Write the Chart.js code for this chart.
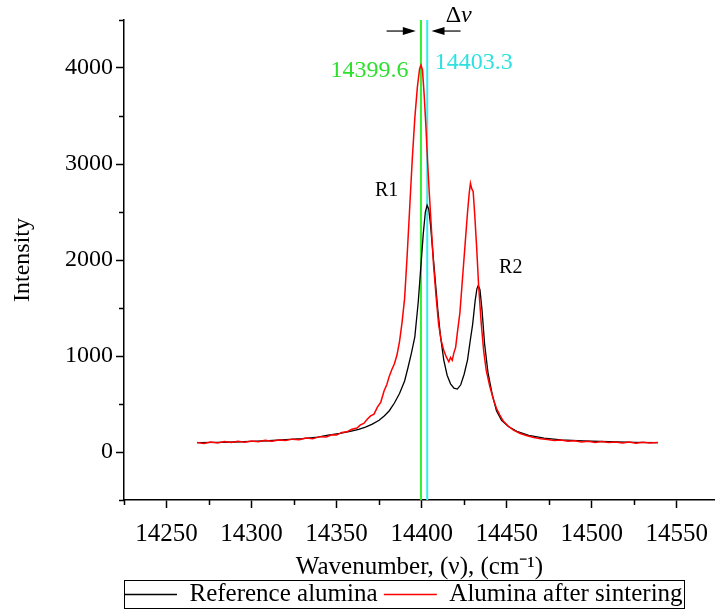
<!DOCTYPE html>
<html>
<head>
<meta charset="utf-8">
<script src="https://cdn.jsdelivr.net/npm/chart.js@4.4.0/dist/chart.umd.min.js"></script>
<style>
  html, body { margin: 0; padding: 0; background: #fff; overflow: hidden; }
</style>
</head>
<body>
<canvas id="ruby" width="715" height="612"></canvas>
<script>
// Reference alumina (black)
const refX = [14268, 14280, 14290, 14300, 14310, 14320, 14330, 14339, 14345, 14352,
  14358, 14363, 14367, 14371, 14375, 14378, 14381, 14384, 14387, 14390,
  14392, 14394, 14396, 14398, 14399.5, 14401, 14402.2, 14403.2, 14404.2, 14405.2,
  14406.5, 14408, 14409.5, 14411, 14413, 14415, 14417, 14419, 14421, 14423,
  14425, 14427, 14428.5, 14430, 14431.5, 14432.5, 14433.3, 14434.3, 14435.5, 14437,
  14439, 14441.5, 14444, 14447, 14451, 14456, 14463, 14472, 14482, 14495,
  14510, 14525, 14539];
const refY = [97, 100, 104, 110, 117, 128, 140, 156, 175, 195,
  215, 235, 260, 290, 330, 375, 430, 510, 610, 740,
  880, 1030, 1200, 1560, 1920, 2280, 2500, 2570, 2530, 2370,
  2100, 1790, 1480, 1220, 960, 800, 710, 665, 655, 700,
  810, 960, 1150, 1330, 1580, 1700, 1735, 1690, 1480, 1130,
  830, 600, 430, 330, 265, 215, 172, 145, 127, 115,
  107, 101, 97];

// Alumina after sintering (red)
const sinterX = [14268, 14272, 14276, 14280, 14284, 14288, 14292, 14296, 14300, 14304,
  14308, 14312, 14316, 14320, 14324, 14328, 14332, 14336, 14340, 14344,
  14347, 14350, 14353, 14356, 14359, 14362, 14364, 14366, 14368, 14370,
  14372, 14374, 14376, 14378, 14379.5, 14381, 14382.5, 14384, 14385.5, 14387,
  14388.5, 14390, 14391.5, 14393, 14394.5, 14396, 14397.5, 14398.8, 14399.6, 14400.5,
  14401.5, 14402.5, 14403.5, 14404.5, 14405.5, 14407, 14408.5, 14410, 14411.5, 14413,
  14414.5, 14416, 14417, 14418, 14419, 14420, 14421, 14422.5, 14424, 14425.5,
  14427, 14428, 14428.7, 14429.5, 14430.3, 14431.2, 14432.3, 14433.5, 14435, 14436.5,
  14438, 14440, 14442, 14444, 14446, 14448, 14451, 14454, 14458, 14462,
  14466, 14470, 14474, 14478, 14482, 14486, 14490, 14494, 14498, 14502,
  14506, 14510, 14514, 14518, 14522, 14526, 14530, 14534, 14539];
const sinterY = [100, 89, 104, 95, 108, 98, 111, 102, 115, 107,
  121, 111, 126, 119, 134, 127, 146, 139, 160, 157,
  180, 176, 204, 210, 237, 250, 283, 298, 342, 376,
  395, 468, 520, 640, 700, 790, 860, 920, 1010, 1150,
  1350, 1600, 2050, 2550, 3050, 3480, 3800, 3990, 4030, 3980,
  3720, 3400, 3020, 2700, 2400, 1950, 1620, 1330, 1160, 1060,
  990, 940, 985, 955, 1035, 1090, 1240, 1450, 1800, 2150,
  2500, 2700, 2800, 2740, 2715, 2480, 2150, 1740, 1350, 1050,
  850, 690, 560, 455, 385, 322, 268, 228, 193, 170,
  152, 137, 131, 120, 125, 111, 117, 105, 112, 100,
  109, 98, 105, 94, 103, 92, 101, 94, 98];

// R1 peak positions marked by the vertical lines
const peakSinter = 14399.6;
const peakRef = 14403.3;

const xTicks = [14225, 14250, 14275, 14300, 14325, 14350, 14375, 14400, 14425, 14450,
  14475, 14500, 14525, 14550, 14575];
const yTicks = [-500, 0, 500, 1000, 1500, 2000, 2500, 3000, 3500, 4000, 4500];

const serif = "'Liberation Serif', 'Times New Roman', serif";

const toPoints = (xs, ys) => xs.map((x, i) => ({ x: x, y: ys[i] }));

// text notes, in data units
const notes = [
  { text: '14399.6', x: 14369.4, y: 3975, color: '#2ee02e', size: 24 },
  { text: '14403.3', x: 14430.6, y: 4060, color: '#2ee0e0', size: 24 },
  { text: 'R1', x: 14379.4, y: 2719, color: '#000', size: 20 },
  { text: 'R2', x: 14452.4, y: 1917, color: '#000', size: 20 }
];

const notesPlugin = {
  id: 'notes',
  afterDraw(chart) {
    const { ctx, scales: { x, y } } = chart;
    ctx.save();

    // minor ticks (shorter than the labelled ones)
    ctx.strokeStyle = '#000';
    ctx.lineWidth = 1.5;
    ctx.beginPath();
    xTicks.forEach(v => {
      if (v % 50 === 0 || v < x.min || v > x.max) return;
      const px = Math.round(x.getPixelForValue(v)) + 0.5;
      ctx.moveTo(px, y.bottom);
      ctx.lineTo(px, y.bottom + 5);
    });
    yTicks.forEach(v => {
      if (v % 1000 === 0) return;
      const py = Math.round(y.getPixelForValue(v)) + 0.5;
      ctx.moveTo(x.left, py);
      ctx.lineTo(x.left - 5, py);
    });
    ctx.stroke();

    ctx.textAlign = 'center';
    ctx.textBaseline = 'middle';
    notes.forEach(n => {
      ctx.fillStyle = n.color;
      ctx.font = n.size + 'px ' + serif;
      ctx.fillText(n.text, x.getPixelForValue(n.x), y.getPixelForValue(n.y));
    });

    // delta nu
    const dx = x.getPixelForValue(14421.8);
    const dy = y.getPixelForValue(4540);
    ctx.fillStyle = '#000';
    ctx.font = '24px ' + serif;
    const wD = ctx.measureText('\u0394').width;
    ctx.font = 'italic 24px ' + serif;
    const wN = ctx.measureText('\u03bd').width;
    ctx.textAlign = 'left';
    ctx.font = '24px ' + serif;
    ctx.fillText('\u0394', dx - (wD + wN) / 2, dy);
    ctx.font = 'italic 24px ' + serif;
    ctx.fillText('\u03bd', dx - (wD + wN) / 2 + wD, dy);

    // arrows pointing at the two lines
    const arrow = (from, to, val) => {
      const x0 = x.getPixelForValue(from);
      const x1 = x.getPixelForValue(to);
      const py = y.getPixelForValue(val);
      const dir = Math.sign(x1 - x0);
      ctx.strokeStyle = '#000';
      ctx.lineWidth = 1.2;
      ctx.beginPath();
      ctx.moveTo(x0, py);
      ctx.lineTo(x1 - dir * 8, py);
      ctx.stroke();
      ctx.beginPath();
      ctx.moveTo(x1, py);
      ctx.lineTo(x1 - dir * 13, py - 4);
      ctx.lineTo(x1 - dir * 13, py + 4);
      ctx.closePath();
      ctx.fill();
    };
    arrow(14379.4, 14396.6, 4385);
    arrow(14422.9, 14405.8, 4385);

    // frame round the legend
    const lg = chart.legend;
    const hb = lg.legendHitBoxes;
    const last = hb[hb.length - 1];
    ctx.strokeStyle = '#000';
    ctx.lineWidth = 1;
    ctx.strokeRect(Math.round(lg.left) + 0.5, Math.round(lg.top) - 1.5,
      Math.round(last.left + last.width + 1 - lg.left), 28);

    ctx.restore();
  }
};

new Chart(document.getElementById('ruby'), {
  type: 'line',
  data: {
    datasets: [
      {
        label: 'Alumina after sintering',
        data: toPoints(sinterX, sinterY),
        borderColor: '#ff0000',
        borderWidth: 1.5,
        pointRadius: 0,
        order: 0
      },
      {
        label: 'Reference alumina',
        data: toPoints(refX, refY),
        borderColor: '#000000',
        borderWidth: 1.3,
        pointRadius: 0,
        order: 1
      },
      {
        label: 'peak sinter',
        data: [{ x: peakSinter, y: -500 }, { x: peakSinter, y: 4500 }],
        borderColor: '#33ee33',
        borderWidth: 2,
        pointRadius: 0,
        order: 2
      },
      {
        label: 'peak ref',
        data: [{ x: peakRef, y: -500 }, { x: peakRef, y: 4500 }],
        borderColor: '#33eeee',
        borderWidth: 2,
        pointRadius: 0,
        order: 2
      }
    ]
  },
  options: {
    responsive: false,
    animation: false,
    layout: { padding: { top: 20, right: 0, bottom: -5, left: 0 } },
    plugins: {
      tooltip: { enabled: false },
      legend: {
        position: 'bottom',
        align: 'start',
        fullSize: false,
        labels: {
          boxWidth: 53,
          boxHeight: 1.5,
          padding: 0,
          color: '#000',
          font: { family: serif, size: 25 },
          generateLabels: () => [
            { text: 'Reference alumina ', fillStyle: '#000', strokeStyle: '#000', lineWidth: 0, hidden: false, datasetIndex: 1 },
            { text: 'Alumina after sintering', fillStyle: '#ff0000', strokeStyle: '#ff0000', lineWidth: 0, hidden: false, datasetIndex: 0 }
          ]
        }
      }
    },
    scales: {
      x: {
        type: 'linear',
        min: 14225,
        max: 14572.5,
        afterBuildTicks: s => { s.ticks = xTicks.filter(v => v <= s.max).map(v => ({ value: v })); },
        afterFit: s => { s.height = 82; s.paddingLeft = 0; s.paddingRight = 0; },
        grid: {
          drawOnChartArea: false,
          tickLength: 8,
          tickWidth: 1.5,
          tickColor: c => (c.tick && c.tick.value % 50 === 0 ? '#000' : 'rgba(0,0,0,0)')
        },
        border: { display: true, color: '#000', width: 1.5 },
        ticks: {
          autoSkip: false,
          maxRotation: 0,
          padding: 11,
          color: '#000',
          font: { family: serif, size: 25 },
          callback: v => (v % 50 === 0 ? String(v) : '')
        },
        title: {
          display: true,
          text: 'Wavenumber, (\u03bd), (cm\u207b\u00b9)',
          color: '#000',
          font: { family: serif, size: 25 },
          padding: { top: 0, bottom: 0 }
        }
      },
      y: {
        min: -500,
        max: 4500,
        afterBuildTicks: s => { s.ticks = yTicks.map(v => ({ value: v })); },
        afterFit: s => { s.width = 124; s.paddingTop = 0; s.paddingBottom = 0; },
        grid: {
          drawOnChartArea: false,
          tickLength: 8,
          tickWidth: 1.5,
          tickColor: c => (c.tick && c.tick.value % 1000 === 0 ? '#000' : 'rgba(0,0,0,0)')
        },
        border: { display: true, color: '#000', width: 1.5 },
        ticks: {
          padding: 3,
          color: '#000',
          font: { family: serif, size: 24 },
          callback: v => (v % 1000 === 0 && v >= 0 && v <= 4000 ? String(v) : '')
        },
        title: {
          display: true,
          text: 'Intensity',
          color: '#000',
          font: { family: serif, size: 24 },
          padding: { top: 8, bottom: 0 }
        }
      }
    }
  },
  plugins: [notesPlugin]
});
</script>
</body>
</html>
